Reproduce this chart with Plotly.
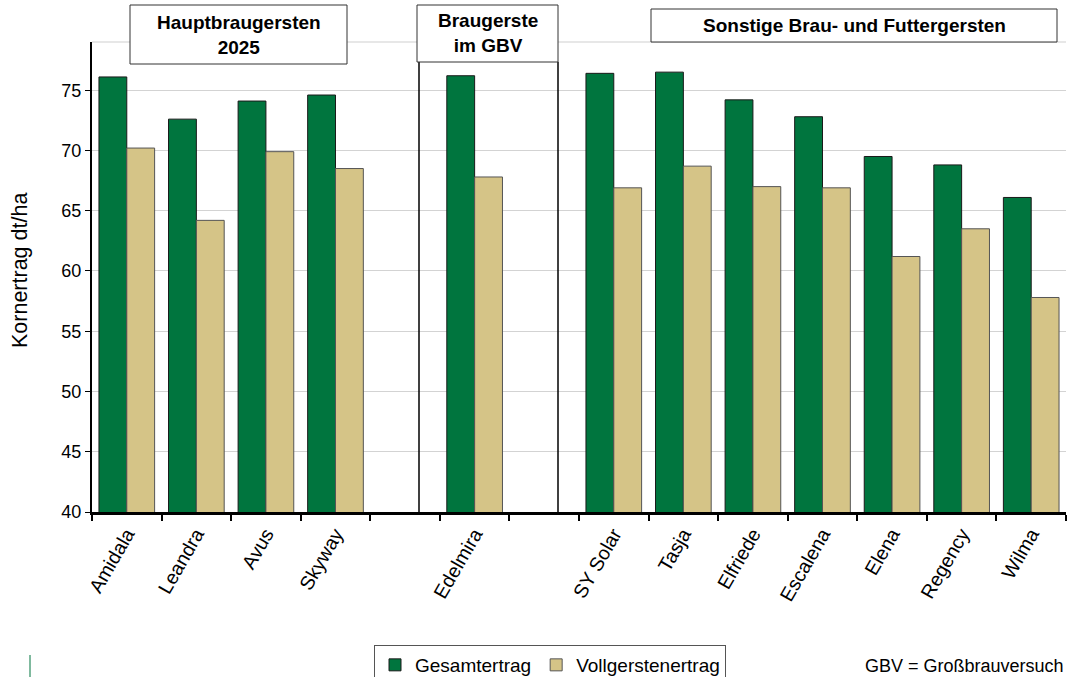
import plotly.graph_objects as go

categories = ["Amidala", "Leandra", "Avus", "Skyway", " ", "Edelmira", "  ",
              "SY Solar", "Tasja", "Elfriede", "Escalena", "Elena", "Regency", "Wilma"]
gesamt = [76.1, 72.6, 74.1, 74.6, None, 76.2, None,
          76.4, 76.5, 74.2, 72.8, 69.5, 68.8, 66.1]
vollgerste = [70.2, 64.2, 69.9, 68.5, None, 67.8, None,
              66.9, 68.7, 67.0, 66.9, 61.2, 63.5, 57.8]

W, H = 1069, 677
L, R, T, B = 92, 1066, 42, 512
FONT = "Arial, Liberation Sans, sans-serif"


def px(x):
    return (x - L) / (R - L)


def py(y):
    return (B - y) / (B - T)


fig = go.Figure()
fig.add_trace(go.Bar(name="Gesamtertrag", x=categories, y=gesamt,
                     marker=dict(color="#00753E", line=dict(color="#1a1a1a", width=1))))
fig.add_trace(go.Bar(name="Vollgerstenertrag", x=categories, y=vollgerste,
                     marker=dict(color="#D5C487", line=dict(color="#555555", width=1))))

shapes = []
shapes.append(dict(type="line", xref="paper", yref="paper", x0=0, x1=1, y0=1, y1=1,
                   line=dict(color="#cfcfcf", width=1), layer="below"))
for xx in (419, 558):
    shapes.append(dict(type="line", xref="paper", yref="paper", x0=px(xx), x1=px(xx),
                       y0=0, y1=py(62), line=dict(color="black", width=1.5)))
shapes.append(dict(type="line", xref="paper", yref="paper", x0=px(30), x1=px(30),
                   y0=py(655), y1=py(677), line=dict(color="#00753E", width=1)))

boxes = [
    (130, 347, 5, 64, "<b>Hauptbraugersten<br>2025</b>"),
    (417, 558, 5, 62, "<b>Braugerste<br>im GBV</b>"),
    (651, 1057, 9, 42, "<b>Sonstige Brau- und Futtergersten</b>"),
]
annotations = []
for x0, x1, y0, y1, txt in boxes:
    shapes.append(dict(type="rect", xref="paper", yref="paper", x0=px(x0), x1=px(x1),
                       y0=py(y1), y1=py(y0), line=dict(color="#333333", width=1),
                       fillcolor="white", layer="above"))
    annotations.append(dict(xref="paper", yref="paper", x=px((x0 + x1) / 2), y=py((y0 + y1) / 2),
                            text=txt, showarrow=False, xanchor="center", yanchor="middle",
                            font=dict(family=FONT, size=19, color="black")))

annotations.append(dict(xref="paper", yref="paper", x=px(1066), y=py(666), text="GBV = Großbrauversuch",
                        showarrow=False, xanchor="right", yanchor="middle",
                        font=dict(family=FONT, size=18, color="black")))
annotations.append(dict(xref="paper", yref="paper", x=px(20), y=py(271), text="Kornertrag dt/ha",
                        showarrow=False, xanchor="center", yanchor="middle", textangle=-90,
                        font=dict(family=FONT, size=21.5, color="black")))

fig.update_layout(
    width=W, height=H,
    margin=dict(l=L, r=W - R, t=T, b=H - B),
    paper_bgcolor="white", plot_bgcolor="white",
    barmode="group", bargap=0.2, bargroupgap=0,
    font=dict(family=FONT, color="black"),
    shapes=shapes, annotations=annotations,
    legend=dict(orientation="h", xref="container", yref="container",
                x=374 / W, y=1 - 645 / H, xanchor="left", yanchor="top",
                bordercolor="#555555", borderwidth=1, font=dict(family=FONT, size=19),
                itemwidth=30, tracegroupgap=0),
    xaxis=dict(type="category", categoryorder="array", categoryarray=categories,
               range=[-0.5, 13.5], tickson="boundaries", ticks="outside", ticklen=6,
               tickcolor="black", tickwidth=1.5,
               showline=True, linecolor="black", linewidth=3, tickangle=-60,
               tickfont=dict(family=FONT, size=19.5), showgrid=False),
    yaxis=dict(range=[40, 79], dtick=5, tick0=40, showgrid=True, gridcolor="#d3d3d3", gridwidth=1,
               showline=True, linecolor="black", linewidth=2, ticks="outside", ticklen=5,
               tickcolor="black", tickfont=dict(family=FONT, size=18), zeroline=False),
)

fig.write_html("out.html", config={"displayModeBar": False},
               post_script="document.body.style.margin='0';document.body.style.overflow='hidden';")
